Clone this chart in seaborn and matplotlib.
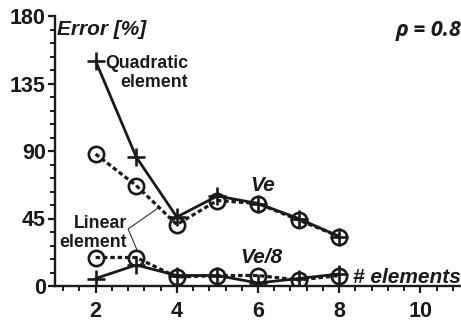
import matplotlib
matplotlib.use("Agg")
import matplotlib.pyplot as plt
from matplotlib.ticker import MultipleLocator
import seaborn as sns
import pandas as pd

# Number of elements along the bar
n_elements = [2, 3, 4, 5, 6, 7, 8]

# Error [%] for load Ve
quad_ve = [150, 86, 46, 60, 55, 45, 33]
lin_ve = [88, 67, 41, 57, 55, 44, 33]

# Error [%] for load Ve/8
quad_ve8 = [5, 14, 7, 7, 2, 5, 8]
lin_ve8 = [19, 19, 6, 7, 7, 4, 7]

x_ticks = [2, 4, 6, 8, 10]
y_ticks = [0, 45, 90, 135, 180]

sns.set_style("ticks")
plt.rcParams["font.family"] = ["Liberation Sans", "DejaVu Sans"]
plt.rcParams["font.weight"] = "bold"

INK = "#1a1a1a"

fig = plt.figure(figsize=(4.61, 3.25), dpi=100)
ax = fig.add_axes([55 / 461, 39 / 325, 406 / 461, 270 / 325])

df = pd.DataFrame({"n": n_elements * 4,
                   "err": quad_ve + lin_ve + quad_ve8 + lin_ve8,
                   "series": ["qve"] * 7 + ["lve"] * 7 + ["qve8"] * 7 + ["lve8"] * 7})

dotted = (0, (1.4, 0.9))
for key in ["lve", "lve8"]:
    sns.lineplot(data=df[df.series == key], x="n", y="err", ax=ax, color=INK,
                 linewidth=2.3, linestyle=dotted, marker="o", markersize=11,
                 markerfacecolor="none", markeredgecolor=INK, markeredgewidth=1.9,
                 zorder=3)
for key in ["qve", "qve8"]:
    sns.lineplot(data=df[df.series == key], x="n", y="err", ax=ax, color=INK,
                 linewidth=2.0, marker="+", markersize=13, markeredgewidth=1.9,
                 markeredgecolor=INK, zorder=4)

ax.set_xlim(1, 11)
ax.set_ylim(0, 180)
ax.set_xticks(x_ticks)
ax.set_yticks(y_ticks)
ax.xaxis.set_minor_locator(MultipleLocator(0.4))
ax.yaxis.set_minor_locator(MultipleLocator(9))
ax.set_xlabel("")
ax.set_ylabel("")
sns.despine(ax=ax)
for side in ["left", "bottom"]:
    ax.spines[side].set_linewidth(1.7)
    ax.spines[side].set_color(INK)
ax.tick_params(which="major", length=5, width=1.6, color=INK,
               labelsize=15.5, pad=1.5)
ax.tick_params(axis="x", which="major", pad=6)
ax.tick_params(which="minor", length=3.5, width=1.4, color=INK)
for lab in ax.get_xticklabels() + ax.get_yticklabels():
    lab.set_fontweight("bold")
    lab.set_color(INK)

# Axis captions drawn inside the plot area
ax.text(1.05, 171, "Error [%]", fontsize=15, fontweight="bold", style="italic",
        ha="left", va="center", color=INK)
ax.text(11, 170.5, "\u03c1 = 0.8", fontsize=15.5, fontweight="bold", style="italic",
        ha="right", va="center", color=INK, family=["Open Sans", "DejaVu Sans"])
ax.text(11, 5.5, "# elements", fontsize=15, fontweight="bold", style="italic",
        ha="right", va="center", color=INK)

# Series labels
ax.text(6.12, 67, "Ve", fontsize=15, fontweight="bold", style="italic",
        ha="center", va="center", color=INK)
ax.text(6.07, 19, "Ve/8", fontsize=15, fontweight="bold", style="italic",
        ha="center", va="center", color=INK)
ax.text(4.28, 142, "Quadratic\nelement", fontsize=12.8, fontweight="bold",
        ha="right", va="center", multialignment="right", linespacing=1.15,
        color=INK)
ax.text(2.78, 35.5, "Linear\nelement", fontsize=12.8, fontweight="bold",
        ha="right", va="center", multialignment="right", linespacing=1.15,
        color=INK)

# Leader line joining the linear-element label to both curves
ax.plot([3.54, 2.8, 3.02], [52, 38, 24], color=INK, linewidth=0.7, zorder=2)

fig.savefig("out.png", dpi=100)
